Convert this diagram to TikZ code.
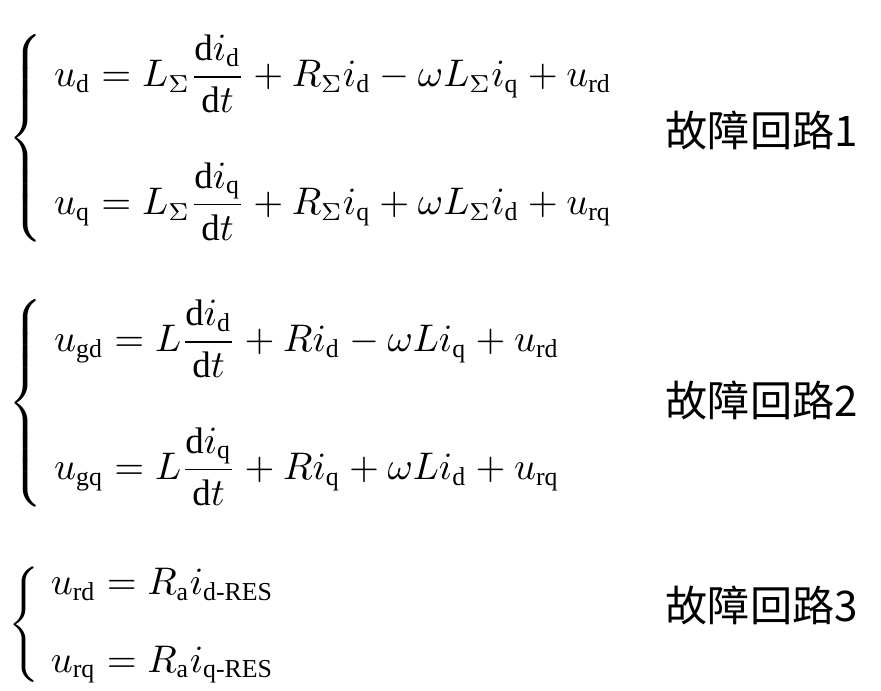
\documentclass[tikz,border=0pt]{standalone}
\usepackage{amsmath}
\usepackage{fontspec}
\setmainfont{Liberation Serif}
\newfontfamily\cjk{Noto Sans CJK SC}
\usetikzlibrary{positioning}
\newcommand{\rmsub}[1]{_{\mathrm{#1}}}
\begin{document}
\begin{tikzpicture}[
    eqn/.style={anchor=west,inner sep=0pt,font=\fontsize{10.5}{12}\selectfont},
    tag/.style={anchor=west,inner sep=0pt,font=\fontsize{12}{14}\selectfont\cjk}]
  \useasboundingbox (0,0) rectangle (8.81,6.91);
  % fault loop 1
  \node[eqn] (sys1) at (0.08,5.53) {$\displaystyle\left\{\!\begin{array}{l}
    u\rmsub{d} = L_\Sigma\dfrac{\mathrm{d}i\rmsub{d}}{\mathrm{d}t} + R_\Sigma i\rmsub{d} - \omega L_\Sigma i\rmsub{q} + u\rmsub{rd}\\[18pt]
    u\rmsub{q} = L_\Sigma\dfrac{\mathrm{d}i\rmsub{q}}{\mathrm{d}t} + R_\Sigma i\rmsub{q} + \omega L_\Sigma i\rmsub{d} + u\rmsub{rq}
  \end{array}\right.$};
  \node[tag] (loop1) at (6.65,5.61) {故障回路1};
  % fault loop 2
  \node[eqn] (sys2) at (0.08,2.88) {$\displaystyle\left\{\!\begin{array}{l}
    u\rmsub{gd} = L\dfrac{\mathrm{d}i\rmsub{d}}{\mathrm{d}t} + R i\rmsub{d} - \omega L i\rmsub{q} + u\rmsub{rd}\\[18pt]
    u\rmsub{gq} = L\dfrac{\mathrm{d}i\rmsub{q}}{\mathrm{d}t} + R i\rmsub{q} + \omega L i\rmsub{d} + u\rmsub{rq}
  \end{array}\right.$};
  \node[tag] (loop2) at (6.65,2.91) {故障回路2};
  % fault loop 3
  \node[eqn] (sys3) at (0.08,0.66) {$\displaystyle\left\{\!\begin{array}{l}
    u\rmsub{rd} = R\rmsub{a} i\rmsub{d\text{-}RES}\\[10pt]
    u\rmsub{rq} = R\rmsub{a} i\rmsub{q\text{-}RES}
  \end{array}\right.$};
  \node[tag] (loop3) at (6.65,0.86) {故障回路3};
\end{tikzpicture}
\end{document}
